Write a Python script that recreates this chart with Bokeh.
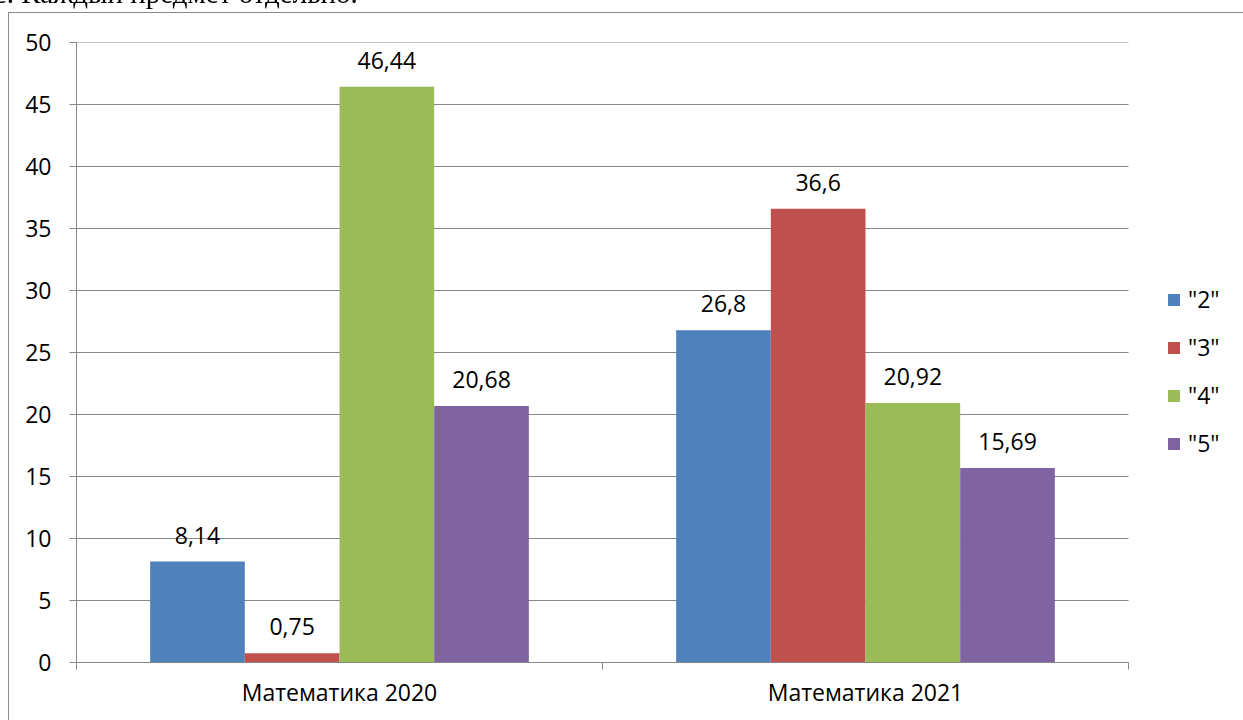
from bokeh.plotting import figure
from bokeh.models import (ColumnDataSource, Range1d, FixedTicker, LabelSet, Legend,
                          LegendItem, Div)
from bokeh.layouts import column
from bokeh.transform import dodge
from bokeh.core.properties import value
from bokeh.embed import file_html
from bokeh.resources import INLINE

# ---- data ----
categories = ["Математика 2020", "Математика 2021"]
grades = ['"2"', '"3"', '"4"', '"5"']
grade2 = [8.14, 26.8]
grade3 = [0.75, 36.6]
grade4 = [46.44, 20.92]
grade5 = [20.68, 15.69]
y_ticks = [0, 5, 10, 15, 20, 25, 30, 35, 40, 45, 50]
header_text = "е. Каждый предмет отдельно."

series = [grade2, grade3, grade4, grade5]
colors = ["#4F81BD", "#C0504D", "#9BBB59", "#8064A2"]
offsets = [-0.27, -0.09, 0.09, 0.27]
FONT = "Open Sans"
FS = "23px"
GRAY = "#878787"

W, H = 1240, 712
LEFT, TOP, BOTTOM = 76, 42, 50
CAT_PX = 1052  # pixel width of the category area
FRAME_W = W - LEFT
n = len(categories)
x_end = n * FRAME_W / CAT_PX

p = figure(width=W, height=H, output_backend="svg", toolbar_location=None,
           x_range=Range1d(0, x_end), y_range=Range1d(0, 50),
           min_border_left=LEFT, min_border_right=0, min_border_top=TOP,
           min_border_bottom=BOTTOM)
p.outline_line_color = None
p.background_fill_color = "white"
p.border_fill_color = "white"

# horizontal grid lines limited to the category area
p.xgrid.grid_line_color = None
p.ygrid.grid_line_color = None
p.segment(x0=[0] * len(y_ticks), x1=[n] * len(y_ticks), y0=y_ticks, y1=y_ticks,
          line_color=GRAY, line_width=1)

centers = [i + 0.5 for i in range(n)]
items = []
for name, vals, col, off in zip(grades, series, colors, offsets):
    src = ColumnDataSource(dict(x=centers, val=vals,
                                lab=[("%g" % v).replace(".", ",") for v in vals]))
    r = p.vbar(x=dodge("x", off), top="val", width=0.18, source=src,
               fill_color=col, line_color=None)
    items.append(LegendItem(label=name, renderers=[r]))
    labels = LabelSet(x=dodge("x", off), y="val", text="lab", source=src,
                      text_font=value(FONT), text_font_size=value(FS),
                      text_color="#000000", text_align="center",
                      text_baseline="alphabetic", y_offset=18)
    p.add_layout(labels)

# x axis
xa = p.xaxis[0]
xa.bounds = (0, n)
xa.ticker = FixedTicker(ticks=centers, minor_ticks=list(range(n + 1)))
xa.major_label_overrides = {c: nm for c, nm in zip(centers, categories)}
xa.major_tick_line_color = None
xa.minor_tick_line_color = GRAY
xa.minor_tick_in = 0
xa.minor_tick_out = 7
xa.axis_line_color = GRAY
xa.major_label_text_font = FONT
xa.major_label_text_font_size = FS
xa.major_label_text_color = "#000000"
xa.major_label_standoff = 6

# y axis
ya = p.yaxis[0]
ya.ticker = FixedTicker(ticks=y_ticks, minor_ticks=[])
ya.major_tick_line_color = GRAY
ya.major_tick_in = 0
ya.major_tick_out = 7
ya.minor_tick_line_color = None
ya.axis_line_color = GRAY
ya.major_label_text_font = FONT
ya.major_label_text_font_size = FS
ya.major_label_text_color = "#000000"
ya.major_label_standoff = 18

legend = Legend(items=items, location=(1090, 203), orientation="vertical",
                glyph_width=15, glyph_height=15, label_height=32, spacing=16,
                label_standoff=7, padding=10, margin=0,
                label_text_font=FONT, label_text_font_size=FS,
                label_text_color="#000000", border_line_color=None,
                background_fill_alpha=0)
p.add_layout(legend, "center")

# page-level frame of the embedded chart and the cut-off line of document text above it
overlay = Div(
    text=('<div style="position:fixed;left:8px;top:12px;width:1400px;height:900px;'
          'border-left:1px solid #8a8a8a;border-top:1px solid #8a8a8a;'
          'pointer-events:none;"></div>'
          '<div style="position:fixed;left:-6px;top:-21px;font-family:\'Liberation Serif\';'
          'font-size:29px;line-height:29px;white-space:nowrap;color:#000;">'
          + header_text + '</div>'),
    width=10, height=1)

layout = column(p, overlay, spacing=0)
open("out.html", "w").write(file_html(layout, INLINE))
